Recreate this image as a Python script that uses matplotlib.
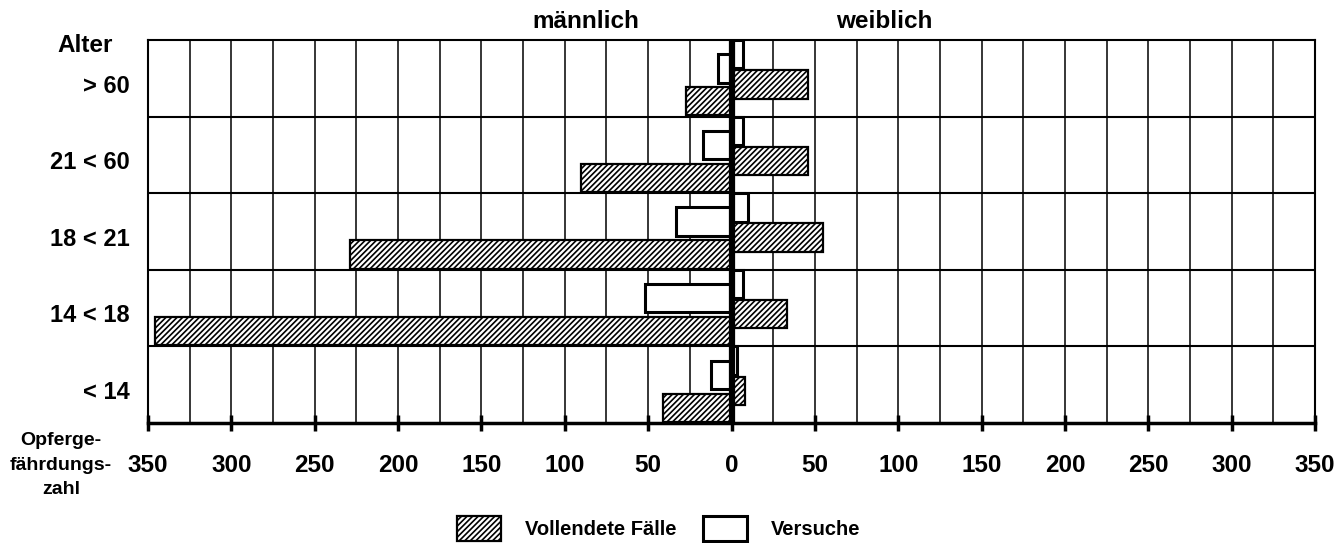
import numpy as np
import matplotlib
matplotlib.use("Agg")
import matplotlib.pyplot as plt
from matplotlib.ticker import FuncFormatter

plt.rcParams['font.family'] = ['Liberation Sans', 'DejaVu Sans']
plt.rcParams['hatch.linewidth'] = 1.2

# Data
groups = ['> 60', '21 < 60', '18 < 21', '14 < 18', '< 14']
male_vollendet = [27, 90, 229, 346, 41]
male_versuche = [8, 17, 33, 52, 12]
female_vollendet = [46, 46, 55, 33, 8]
female_versuche = [7, 7, 10, 7, 3]

fig = plt.figure(figsize=(13.39, 5.43), dpi=100)
ax = fig.add_axes([148/1339, 1 - 423/543, (1315 - 148)/1339, (423 - 40)/543])

y = np.arange(len(groups))
h = 0.37

# versuche = white boxes, vollendete = hatched
ax.barh(y + 0.185, female_versuche, h, color='white', edgecolor='black', linewidth=2.2, zorder=3)
ax.barh(y + 0.37, [-v for v in male_versuche], h, color='white', edgecolor='black', linewidth=2.2, zorder=3)
vol = ax.barh(y + 0.58, female_vollendet, h, color='white', edgecolor='black', hatch='//////', linewidth=1.6, zorder=3)
ax.barh(y + 0.80, [-v for v in male_vollendet], h, color='white', edgecolor='black', hatch='//////', linewidth=1.6, zorder=4)
ver = ax.bar([0], [0], color='white', edgecolor='black', linewidth=2.2)  # legend handle only

ax.axvline(0, color='black', linewidth=4.5, zorder=6)

ax.set_xlim(-350, 350)
ax.set_ylim(5, 0)
ax.set_xticks(np.arange(-350, 351, 50))
ax.set_xticks(np.arange(-350, 351, 25), minor=True)
ax.xaxis.set_major_formatter(FuncFormatter(lambda v, p: '%d' % abs(v)))
ax.tick_params(axis='x', which='major', direction='inout', length=12, width=2.5,
               pad=16, labelsize=17.5)
ax.tick_params(axis='x', which='minor', length=0)
for lab in ax.get_xticklabels():
    lab.set_fontweight('bold')

ax.set_yticks(np.arange(1, 5), minor=True)
ax.set_yticks(y + 0.57)
ax.set_yticklabels(groups, fontsize=17, fontweight='bold')
ax.tick_params(axis='y', which='both', length=0, pad=13)

ax.grid(True, which='both', axis='x', color='black', linewidth=1.1)
ax.grid(True, which='minor', axis='y', color='black', linewidth=1.5)
ax.set_axisbelow(True)

for s in ['top', 'left', 'right']:
    ax.spines[s].set_linewidth(1.5)
ax.spines['bottom'].set_linewidth(2.5)

fig.text(586/1339, 1 - 22/543, 'männlich', ha='center', va='center', fontsize=17.5, fontweight='bold')
fig.text(884/1339, 1 - 22/543, 'weiblich', ha='center', va='center', fontsize=17.5, fontweight='bold')
fig.text(85/1339, 1 - 46/543, 'Alter', ha='center', va='center', fontsize=17.5, fontweight='bold')
fig.text(61/1339, 1 - 465/543, 'Opferge-\nfährdungs-\nzahl', ha='center', va='center',
         fontsize=14, fontweight='bold', linespacing=1.6)

fig.legend([vol, ver], ['Vollendete Fälle', 'Versuche'], loc='center',
           bbox_to_anchor=(0.492, 0.027), ncol=2, frameon=False,
           prop={'size': 14.5, 'weight': 'bold'}, handlelength=2.2, handleheight=1.5,
           handletextpad=1.2, columnspacing=1.3)

fig.savefig('out.png', dpi=100)
